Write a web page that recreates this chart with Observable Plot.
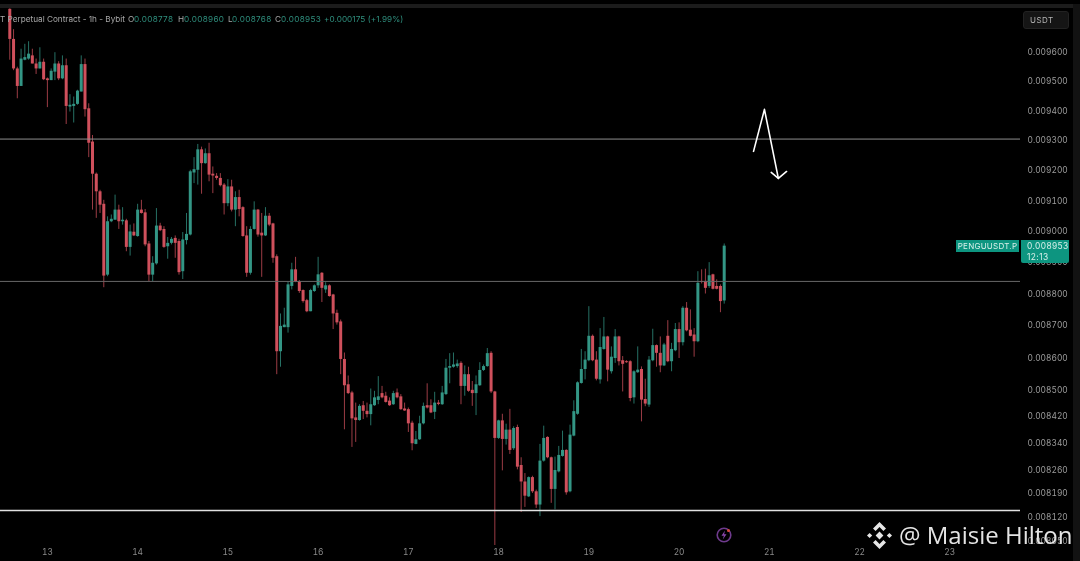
<!DOCTYPE html>
<html>
<head>
<meta charset="utf-8">
<script src="https://cdn.jsdelivr.net/npm/d3@7"></script>
<script src="https://cdn.jsdelivr.net/npm/@observablehq/plot@0.6"></script>
<style>
html,body{margin:0;padding:0;background:#000;width:1080px;height:561px;overflow:hidden}
#wrap{position:relative;width:1080px;height:561px;background:#000;overflow:hidden;font-family:Inter,Roboto,sans-serif}
#chart svg{display:block;filter:blur(.55px)}
.ov{position:absolute;white-space:pre;filter:blur(.3px)}
</style>
</head>
<body>
<div id="wrap"><div id="chart"></div></div>
<script>
// Prices are in millionths of USDT
const open = [
9750,9645,9543,9483,9573,9577,9588,9560,9543,9566,
9509,9503,9532,9560,9509,9554,9413,9415,9422,9464,
9558,9407,9295,9188,9130,9089,8860,9032,9037,9070,
9032,9035,8949,8998,8984,9070,9061,8960,8860,8896,
9018,9007,8951,8962,8978,8968,8871,8971,8989,9192,
9201,9269,9223,9256,9188,9181,9174,9152,9091,9146,
9070,9111,9078,8986,8866,9007,9070,8995,8986,9050,
9025,8919,8619,8694,8694,8824,8877,8839,8811,8779,
8744,8808,8826,8866,8813,8826,8797,8739,8712,8595,
8517,8492,8416,8408,8453,8436,8426,8453,8469,8490,
8482,8467,8456,8492,8480,8443,8441,8400,8336,8350,
8398,8453,8453,8433,8461,8456,8487,8568,8571,8573,
8583,8512,8548,8500,8490,8514,8561,8573,8614,8495,
8354,8407,8351,8379,8323,8387,8273,8224,8180,8237,
8195,8156,8286,8357,8296,8202,8254,8300,8318,8195,
8361,8427,8521,8564,8591,8667,8593,8532,8626,8665,
8557,8598,8665,8591,8588,8588,8477,8554,8564,8472,
8455,8591,8638,8614,8575,8667,8588,8622,8688,8647,
8755,8686,8671,8650,8840,8840,8824,8861,8824,8824,
8778];
const close = [
9645,9543,9483,9577,9582,9594,9560,9543,9566,9506,
9503,9535,9560,9509,9554,9415,9419,9422,9467,9558,
9404,9291,9188,9130,9086,8857,9032,9040,9070,9032,
9037,8949,8999,8986,9070,9059,8957,8860,8898,9018,
9003,8949,8962,8975,8962,8868,8973,8991,9196,9203,
9269,9223,9256,9185,9182,9174,9150,9091,9146,9070,
9111,9072,8984,8866,9007,9070,8989,8986,9050,9021,
8914,8619,8698,8702,8829,8877,8839,8808,8776,8744,
8811,8826,8861,8818,8826,8792,8737,8709,8595,8514,
8490,8413,8408,8451,8436,8426,8456,8477,8480,8477,
8463,8453,8490,8477,8441,8437,8398,8338,8350,8398,
8451,8446,8431,8461,8457,8492,8568,8573,8578,8581,
8512,8548,8497,8490,8517,8561,8573,8613,8495,8354,
8407,8351,8379,8318,8384,8268,8224,8182,8237,8195,
8156,8286,8354,8296,8202,8258,8303,8318,8192,8364,
8435,8523,8564,8593,8667,8591,8534,8632,8665,8562,
8602,8665,8588,8580,8585,8475,8557,8562,8470,8458,
8593,8638,8614,8575,8640,8588,8626,8688,8647,8755,
8684,8667,8650,8834,8837,8818,8858,8815,8815,8776,
8953];
const high = [
9752,9679,9549,9611,9628,9637,9611,9577,9616,9577,
9512,9543,9599,9568,9588,9577,9455,9447,9470,9588,
9577,9424,9317,9192,9135,9102,9048,9054,9119,9086,
9078,9040,9021,9025,9089,9102,9072,8968,8919,9075,
9027,9016,8981,8981,8986,8975,8997,9059,9201,9243,
9287,9278,9272,9291,9212,9190,9190,9157,9170,9168,
9130,9135,9081,9016,9016,9097,9072,9059,9078,9059,
9027,8925,8737,8755,8839,8898,8917,8843,8813,8783,
8815,8829,8917,8868,8836,8829,8799,8749,8718,8615,
8544,8497,8461,8456,8466,8461,8504,8497,8542,8512,
8494,8477,8497,8504,8487,8461,8446,8406,8375,8421,
8461,8520,8471,8494,8469,8512,8595,8613,8615,8593,
8588,8575,8571,8527,8544,8585,8578,8629,8619,8497,
8409,8427,8397,8442,8389,8394,8296,8249,8239,8241,
8200,8336,8391,8359,8298,8298,8330,8376,8320,8394,
8468,8526,8626,8619,8760,8671,8619,8691,8726,8667,
8634,8688,8667,8604,8591,8591,8560,8634,8572,8534,
8604,8689,8640,8665,8645,8716,8645,8707,8709,8760,
8773,8750,8691,8871,8877,8879,8900,8863,8845,8829,
8960];
const low = [
9573,9537,9441,9483,9571,9573,9560,9524,9543,9503,
9411,9503,9503,9503,9506,9354,9396,9359,9419,9464,
9379,9243,9070,9043,9059,8820,8855,9029,9037,9007,
9021,8935,8921,8984,8982,9057,8951,8839,8839,8892,
9000,8946,8911,8957,8914,8860,8846,8957,8986,9157,
9152,9122,9221,9163,9124,9168,9146,9054,9081,9064,
9016,9048,8982,8853,8860,9005,8982,8853,8984,9016,
8898,8548,8571,8694,8677,8813,8836,8802,8771,8741,
8744,8805,8818,8773,8802,8790,8688,8702,8548,8380,
8487,8327,8342,8406,8411,8416,8392,8451,8456,8474,
8461,8451,8454,8474,8439,8436,8372,8317,8335,8348,
8395,8443,8429,8411,8453,8454,8484,8520,8568,8568,
8456,8482,8494,8451,8423,8512,8558,8571,8490,8038,
8351,8257,8334,8306,8318,8260,8134,8149,8178,8190,
8146,8122,8283,8293,8161,8142,8251,8298,8185,8192,
8359,8424,8519,8532,8588,8588,8529,8519,8624,8526,
8550,8583,8575,8495,8583,8465,8458,8552,8404,8450,
8448,8588,8571,8554,8573,8585,8557,8619,8598,8637,
8681,8665,8602,8647,8832,8800,8818,8813,8813,8741,
8768];

const priceTicks = [9600,9500,9400,9300,9200,9100,9000,8900,8800,8700,8600,8500,8420,8340,8260,8190,8120,8050];
const levels = [9305,8840,8140];
const levelColors = ["#8e8e8e","#686868","#e2e2e2"];
const levelWidths = [1,1,1.4];
const dayLabels = [13,14,15,16,17,18,19,20,21,22,23];
const dayHours = [10,34,58,82,106,130,154,178,202,226,250];
const arrowHours = [197.8,200.7,204.4];
const arrowPrices = [9264,9405,9174];
const headHours = [202.5,204.4,206.6];
const headPrices = [9194,9174,9197];
const lastPrice = 8953;

const candles = open.map((o,i)=>({hour:i,open:o,close:close[i],high:high[i],low:low[i],up:close[i]>=o}));
const UP="#339685", DOWN="#cf505c";
const dayMap = new Map(dayHours.map((h,i)=>[h,dayLabels[i]]));

const plot = Plot.plot({
  width:1080,height:561,
  marginLeft:0,marginRight:60,marginTop:8,marginBottom:16,
  style:{background:"#000",fontFamily:"Inter,Roboto,sans-serif"},
  x:{type:"linear",domain:[-2.47,268.8],range:[0,1020]},
  y:{type:"log",domain:[8038,9753],range:[545,8]},
  marks:[
    Plot.ruleX(candles,{x:"hour",y1:"low",y2:"high",stroke:d=>d.up?UP:DOWN,strokeWidth:1,strokeOpacity:.75}),
    Plot.ruleX(candles,{x:"hour",y1:"open",y2:"close",stroke:d=>d.up?UP:DOWN,strokeWidth:3}),
    ...levels.map((v,i)=>Plot.ruleY([v],{stroke:levelColors[i],strokeWidth:levelWidths[i]})),
    Plot.line(arrowHours.map((h,i)=>({h,p:arrowPrices[i]})),{x:"h",y:"p",stroke:"#fff",strokeWidth:1.6,curve:"linear"}),
    Plot.line(headHours.map((h,i)=>({h,p:headPrices[i]})),{x:"h",y:"p",stroke:"#fff",strokeWidth:1.6,curve:"linear"}),
    Plot.axisY({anchor:"right",ticks:priceTicks,tickSize:0,tickPadding:7,label:null,
      tickFormat:d=>(d/1e6).toFixed(6),fill:"#9b9b9b",fontSize:8.4,
      style:{letterSpacing:".4px"}}),
    Plot.axisX({anchor:"bottom",ticks:dayHours,tickSize:0,tickPadding:4,label:null,
      tickFormat:d=>dayMap.get(d),fill:"#8a8a8a",fontSize:8.4})
  ]
});
document.getElementById("chart").append(plot);

const yPos = plot.scale("y").apply(lastPrice);
const wrap=document.getElementById("wrap");
function add(html){wrap.insertAdjacentHTML("beforeend",html);}
// window chrome
add(`<div style="position:absolute;left:0;top:4px;width:1080px;height:4px;background:#1c1c1c"></div>`);
add(`<div style="position:absolute;left:1073px;top:4px;width:7px;height:557px;background:#121212"></div>`);
add(`<div class="ov" style="left:1023px;top:11px;width:46px;height:18px;background:#151515;border:1px solid #222;border-radius:3px;box-sizing:border-box;color:#b4b4b4;font-size:8px;line-height:16px;padding-left:6px;letter-spacing:.5px">USDT</div>`);
// legend line
const hdr=[["T Perpetual Contract - 1h - Bybit",0,"#a8a8a8",0],["O",128,"#a8a8a8",.3],["0.008778",134,"#2f8f7e",.3],["H",178,"#a8a8a8",.3],["0.008960",184,"#2f8f7e",.3],["L",228,"#a8a8a8",.3],["0.008768",232,"#2f8f7e",.3],["C",275,"#a8a8a8",.3],["0.008953",281,"#2f8f7e",.3],["+0.000175 (+1.99%)",324,"#2f8f7e",.05]];
hdr.forEach(([t,x,c,s])=>add(`<div class="ov" style="left:${x}px;top:14px;font-size:8.2px;line-height:10px;letter-spacing:${s}px;color:${c}">${t}</div>`));
// last price tags
add(`<div class="ov" style="left:956px;top:${yPos-6}px;width:63px;height:12px;background:#0d9580;color:#d8efe9;font-size:8px;line-height:12px;text-align:center;letter-spacing:.25px">PENGUUSDT.P</div>`);
add(`<div class="ov" style="left:1021px;top:${yPos-6}px;width:48px;height:23px;background:#0d9580;border-radius:0 0 2px 2px;color:#d8efe9;font-size:8.4px;line-height:11px;padding:1px 0 0 6px;box-sizing:border-box;letter-spacing:.4px">0.008953
12:13</div>`);
// lightning badge
add(`<svg style="position:absolute;left:714px;top:525px" width="20" height="20" viewBox="0 0 20 20"><circle cx="10" cy="10" r="6.8" fill="none" stroke="#6e3a8c" stroke-width="1.6"/><path d="M11 5.5 7.5 10.8h2.4L8.8 14.5l3.7-5.3h-2.4z" fill="#8a46ad"/><circle cx="14.5" cy="5.5" r="1.5" fill="#d84a3c"/></svg>`);
// watermark
add(`<svg style="position:absolute;left:865px;top:521px" width="29" height="29" viewBox="0 0 29 29" fill="#e6e6e6"><path d="M14.5 1 21 7.5 18.4 10 14.5 6.1 10.6 10 8 7.5z"/><path d="M14.5 28 8 21.5 10.6 19 14.5 22.9 18.4 19 21 21.5z"/><path d="M14.5 10.6 18.4 14.5 14.5 18.4 10.6 14.5z"/><path d="M4.6 11.9 7.2 14.5 4.6 17.1 2 14.5z"/><path d="M24.4 11.9 27 14.5 24.4 17.1 21.8 14.5z"/></svg>`);
add(`<div class="ov" style="left:899px;top:519px;font-family:'Open Sans','Noto Sans',sans-serif;font-size:24px;line-height:31px;color:#e4e4e4">@ Maisie Hilton</div>`);
</script>
</body>
</html>
